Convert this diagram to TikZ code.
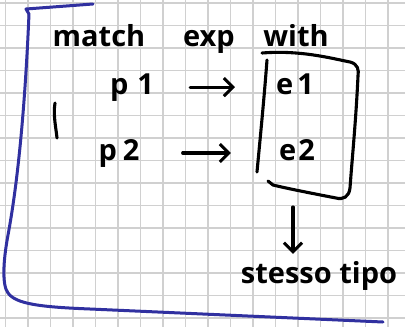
\documentclass[tikz,border=0pt]{standalone}
\usepackage{fontspec}
\setmainfont{Open Sans}
\usetikzlibrary{arrows.meta}
\definecolor{gridc}{RGB}{208,208,208}
\definecolor{penblue}{RGB}{48,48,160}
\tikzset{
  ink/.style={line width=3.1pt, line cap=round, line join=round, black},
  hand/.style={font=\fontsize{29}{30}\selectfont\bfseries, inner sep=0pt, anchor=base},
  harrow/.style={ink, -{Straight Barb[length=9pt,width=18pt,line width=3pt]}},
}
\begin{document}
\begin{tikzpicture}[x=1pt,y=-1pt]
\useasboundingbox (0,0) rectangle (405,327);
\fill[white] (0,0) rectangle (405,327);
% grid
\foreach \i in {0,...,17} \draw[gridc, line width=1.4pt] (5.5+22.5*\i,0) -- (5.5+22.5*\i,327);
\foreach \j in {0,...,14} \draw[gridc, line width=1.4pt] (0,3+22.5*\j) -- (405,3+22.5*\j);
% blue bracket
\draw[penblue, line width=3pt, line cap=round, line join=round]
  (93,4) -- (26,9) -- (29,14) .. controls (27,60) and (22,160) .. (8,235)
  .. controls (3,262) and (2,285) .. (8,293) .. controls (16,304) and (40,307) .. (90,309)
  -- (383,322);
% texts
\node[hand] (match) at (99,46) {match};
\node[hand] (exp) at (209,46) {exp};
\node[hand] (with) at (296,46) {with};
\node[hand] (p1) at (132,94) {p\hspace{9pt}1};
\node[hand] (e1) at (295,94) {e\hspace{4pt}1};
\node[hand] (p2) at (119,160) {p\hspace{6pt}2};
\node[hand] (e2) at (297,160) {e\hspace{2pt}2};
\node[hand] (st) at (319,283) {stesso tipo};
% small left stroke
\draw[ink] (55,103) .. controls (53,115) and (56,128) .. (57,138);
% arrows
\draw[harrow, shorten <=36pt, shorten >=41pt] (p1.east) -- (e1.west |- p1.east);
\draw[harrow, shorten <=43pt, shorten >=48pt] (p2.east) -- (e2.west |- p2.east);
% box around e1, e2
\draw[ink] (262,53) .. controls (300,50) and (330,58) .. (350,62)
  .. controls (358,64) and (359,70) .. (358,76)
  .. controls (356,120) and (352,160) .. (350,188)
  .. controls (349,197) and (343,200) .. (336,198)
  .. controls (310,193) and (285,188) .. (273,185) -- (268,181);
\draw[ink] (267,60) .. controls (264,100) and (260,140) .. (257,172);
\coordinate (boxb) at (293,207);
\draw[harrow] (boxb) -- ([yshift=7pt]st.north -| boxb);
\end{tikzpicture}
\end{document}
